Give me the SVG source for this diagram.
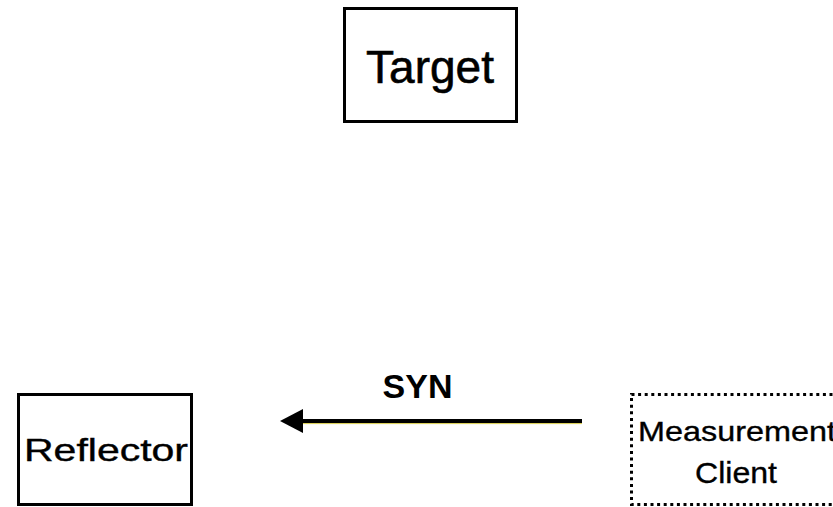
<svg xmlns="http://www.w3.org/2000/svg" width="833" height="507" viewBox="0 0 833 507">
  <style>
    .box { fill: #ffffff; stroke: #000000; stroke-width: 3; }
    .dotted { fill: #ffffff; stroke: #000000; stroke-width: 3; stroke-dasharray: 3 3.6; }
    .label { font-family: "Liberation Sans", Arial, Helvetica, sans-serif; fill: #000000; stroke: #000000; }
    .edge { stroke: #000000; stroke-width: 4; fill: none; }
  </style>
  <rect width="833" height="507" fill="#ffffff"/>

  <g id="target">
    <rect class="box" x="344.5" y="8.5" width="172" height="113"/>
    <text class="label" x="430" y="83" font-size="46" text-anchor="middle" stroke-width="0.6">Target</text>
  </g>

  <g id="reflector">
    <rect class="box" x="18.5" y="394.5" width="173" height="110"/>
    <text class="label" x="24" y="461" font-size="32" textLength="164" lengthAdjust="spacingAndGlyphs" stroke-width="0.4">Reflector</text>
  </g>

  <g id="measurement-client">
    <rect class="dotted" x="631.5" y="394.5" width="220" height="110"/>
    <text class="label" x="638" y="441" font-size="28" textLength="198" lengthAdjust="spacingAndGlyphs" stroke-width="0.35">Measurement</text>
    <text class="label" x="695" y="483" font-size="29" textLength="82" lengthAdjust="spacingAndGlyphs" stroke-width="0.35">Client</text>
  </g>

  <g id="connectors">
    <line x1="300" y1="423.6" x2="582" y2="423.6" stroke="#c9b800" stroke-width="1" opacity="0.7"/>
    <line class="edge" x1="300" y1="421" x2="582" y2="421"/>
    <polygon points="280,421 303,409 303,433" fill="#000000"/>
    <text class="label" x="417.5" y="398" font-size="34" font-weight="bold" text-anchor="middle" stroke-width="0">SYN</text>
  </g>
</svg>
